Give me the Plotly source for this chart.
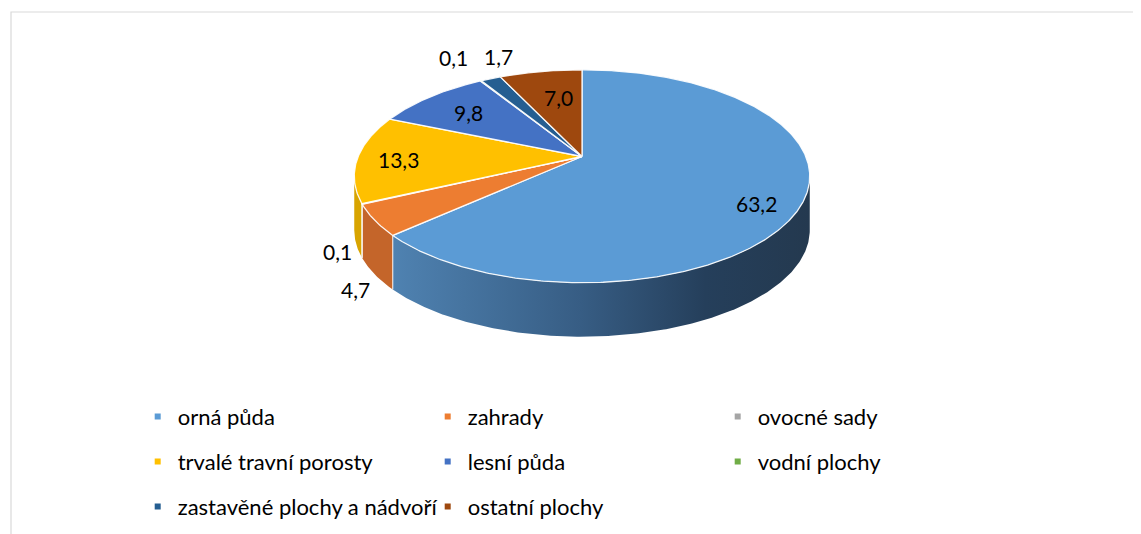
import numpy as np
import plotly.graph_objects as go

# ---------------- data ----------------
categories = ["orná půda", "zahrady", "ovocné sady", "trvalé travní porosty",
              "lesní půda", "vodní plochy", "zastavěné plochy a nádvoří", "ostatní plochy"]
values = [63.2, 4.7, 0.1, 13.3, 9.8, 0.1, 1.7, 7.0]
legend_rows = [0, 0, 0, 1, 1, 1, 2, 2]

# ---------------- style ----------------
colors = ["#5B9BD5", "#ED7D31", "#A5A5A5", "#FFC000", "#4472C4", "#70AD47", "#255E91", "#9E480E"]
side_colors = ["#3f6d99", "#c4652a", "#8a8a8a", "#d8a400", "#365c9e", "#5a8c39", "#1d4a73", "#7d390b"]
blue_side_scale = [[0, "#4f82b1"], [0.45, "#375d84"], [0.75, "#253f5b"], [1, "#24394f"]]
# label placement: (radius on top face, pixel dx, pixel dy)
label_place = [(0.80, 0, 12), (1.0, -19, 69), (1.0, -25, 48), (0.82, 0, 2),
               (0.71, -2, 0), (1.0, -27, -23), (1.0, 8, -22), (0.60, 3, -5)]

FONT = "Lato, 'Noto Sans', sans-serif"
W, H = 1141, 534
OFF = 8                       # page body margin compensation
CX, CY = 582, 156.5           # pie apex in pixels
A, B, K = 223.8, 102.8, 0.1855  # projective ellipse parameters
DEPTH = 54


def proj(r, theta):
    t = np.radians(theta)
    u = r * np.sin(t)
    v = r * np.cos(t)
    d = 1 + K * v
    return CX + A * u / d, CY - B * v / d


total = sum(values)
cum = np.concatenate([[0], np.cumsum(values)])
starts = 360 * cum[:-1] / total
ends = 360 * cum[1:] / total
tmin = 90 + np.degrees(np.arcsin(K))
tmax = 270 - np.degrees(np.arcsin(K))

fig = go.Figure()

# side walls
for i in range(len(values)):
    lo, hi = max(starts[i], tmin), min(ends[i], tmax)
    if lo >= hi:
        continue
    ts = np.linspace(lo, hi, max(3, int((hi - lo) * 2)))
    xt, yt = proj(1.0, ts)
    xs = list(xt) + list(xt[::-1]) + [xt[0]]
    ys = list(yt) + list(yt[::-1] + DEPTH) + [yt[0]]
    kw = dict(fillcolor=side_colors[i])
    if i == 0:
        kw = dict(fillgradient=dict(type="horizontal", colorscale=blue_side_scale))
    fig.add_trace(go.Scatter(x=xs, y=ys, mode="lines", fill="toself",
                             line=dict(width=0, color=side_colors[i]),
                             hoverinfo="skip", showlegend=False, **kw))

# vertical edges between visible side walls
ex, ey = [], []
for b in starts[1:]:
    if tmin < b < tmax:
        x0, y0 = proj(1.0, b)
        ex += [x0, x0, None]
        ey += [y0, y0 + DEPTH, None]
fig.add_trace(go.Scatter(x=ex, y=ey, mode="lines", line=dict(width=1.2, color="rgba(255,255,255,0.75)"),
                         hoverinfo="skip", showlegend=False))

# top faces
for i in range(len(values)):
    ts = np.linspace(starts[i], ends[i], max(3, int((ends[i] - starts[i]) * 2)))
    xt, yt = proj(1.0, ts)
    xs = [CX] + list(xt) + [CX]
    ys = [CY] + list(yt) + [CY]
    fig.add_trace(go.Scatter(x=xs, y=ys, mode="lines", fill="toself",
                             fillcolor=colors[i], line=dict(width=1.3, color="rgba(255,255,255,0.9)"),
                             name=categories[i], hoverinfo="name", showlegend=False))

# data labels
for i in range(len(values)):
    mid = (starts[i] + ends[i]) / 2
    r, dx, dy = label_place[i]
    x, y = proj(r, mid)
    fig.add_annotation(x=x + dx, y=y + dy, text=f"{values[i]:.1f}".replace(".", ","),
                       showarrow=False, xanchor="center", yanchor="middle",
                       font=dict(family=FONT, size=21, color="#000000"))

# legend entries
legend_ids = ["legend", "legend2", "legend3"]
for i in range(len(values)):
    fig.add_trace(go.Scatter(x=[None], y=[None], mode="markers", name=categories[i],
                             marker=dict(symbol="square", size=6, color=colors[i]),
                             legend=legend_ids[legend_rows[i]]))

row_y = [416.7, 461.6, 506.8]
legend_common = dict(orientation="h", xanchor="left", yanchor="middle", x=(137.7 - OFF) / W,
                     entrywidth=245, entrywidthmode="pixels", bgcolor="rgba(0,0,0,0)",
                     font=dict(family=FONT, size=22, color="#000000"), borderwidth=0)
layout_legends = {lid: dict(legend_common, y=1 - (row_y[j] - OFF) / H) for j, lid in enumerate(legend_ids)}

fig.update_layout(
    width=W, height=H, autosize=False,
    margin=dict(l=0, r=0, t=0, b=0),
    paper_bgcolor="white", plot_bgcolor="white",
    xaxis=dict(range=[OFF, W + OFF], visible=False, fixedrange=True),
    yaxis=dict(range=[H + OFF, OFF], visible=False, fixedrange=True),
    shapes=[dict(type="rect", xref="x", yref="y", x0=11, y0=12, x1=W + 40, y1=H + 40,
                 line=dict(color="#d9d9d9", width=1.2), fillcolor="rgba(0,0,0,0)", layer="below")],
    **layout_legends,
)

fig.write_html("out.html")
